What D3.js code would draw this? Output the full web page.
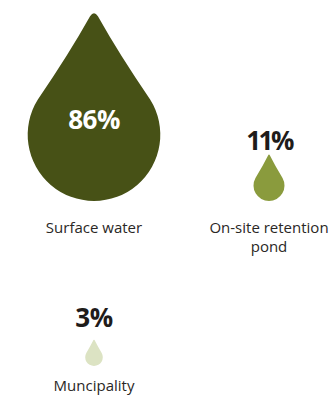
<!DOCTYPE html>
<html>
<head>
  <meta charset="utf-8">
  <script src="https://d3js.org/d3.v7.min.js"></script>
  <style>
    html, body { margin: 0; padding: 0; background: #fff; }
    text { font-family: "Open Sans", "Noto Sans", sans-serif; }
  </style>
</head>
<body>
  <div id="chart"></div>
  <script>
    var labels = ["Surface water", "On-site retention pond", "Muncipality"];
    var values = [86, 11, 3];
    var colors = ["#475116", "#8a9b3d", "#dce3c3"];

    var width = 331, height = 395;

    var svg = d3.select("#chart")
      .append("svg")
      .attr("width", width)
      .attr("height", height);

    // drop radius from the value
    var r = d3.scaleLinear()
      .domain([3, 11, 86])
      .range([8.8, 15.5, 66.3]);

    // two columns, rows aligned on the bottom of the drops
    var colX = d3.scaleOrdinal().domain([0, 1]).range([94, 269]);
    var rowBottom = d3.scaleOrdinal().domain([0, 1]).range([201, 366]);
    var rowValueY = d3.scaleOrdinal().domain([0, 1]).range([149.5, 327]);
    var rowLabelY = d3.scaleOrdinal().domain([0, 1]).range([232.5, 390.5]);

    function dropPath(cx, cy, rad, f) {
      var d = f * rad;
      var th = Math.acos(1 / f);
      var tx = rad * Math.sin(th), ty = -rad * Math.cos(th);
      var ang = Math.atan2(ty, tx);
      var tipY = cy - d;
      // small rounding at the tip
      var k = 0.07;
      var p = d3.path();
      p.moveTo(cx - tx * k, tipY + (ty + d) * k);
      p.quadraticCurveTo(cx, tipY, cx + tx * k, tipY + (ty + d) * k);
      // slightly concave side down to the tangent point
      p.quadraticCurveTo(cx + tx * 0.5 - 0.04 * rad, tipY + (ty + d) * 0.5, cx + tx, cy + ty);
      p.arc(cx, cy, rad, ang, Math.PI - ang, false);
      p.quadraticCurveTo(cx - tx * 0.5 + 0.04 * rad, tipY + (ty + d) * 0.5, cx - tx * k, tipY + (ty + d) * k);
      p.closePath();
      return p.toString();
    }

    values.forEach(function(v, i) {
      var col = i % 2, row = Math.floor(i / 2);
      var rad = r(v);
      var cx = colX(col);
      var cy = rowBottom(row) - rad;
      var inside = rad > 40;
      var g = svg.append("g");

      g.append("path")
        .attr("d", dropPath(cx, cy, rad, inside ? 1.88 : 2.05))
        .attr("fill", colors[i]);

      g.append("text")
        .attr("x", cx)
        .attr("y", inside ? cy - 6 : rowValueY(row))
        .attr("text-anchor", "middle")
        .attr("font-size", 26)
        .attr("font-weight", 700)
        .attr("letter-spacing", v === 11 ? -2.5 : -0.5)
        .attr("fill", inside ? "#ffffff" : "#1f1c1a")
        .text(v + "%");

      // wrap label into lines
      var t = g.append("text")
        .attr("x", cx)
        .attr("y", rowLabelY(row))
        .attr("text-anchor", "middle")
        .attr("font-size", 15)
        .attr("fill", "#2a2725");
      var words = labels[i].split(" ");
      var line = [];
      var ts = t.append("tspan").attr("x", cx).attr("dy", 0);
      words.forEach(function(w) {
        line.push(w);
        ts.text(line.join(" "));
        if (ts.node().getComputedTextLength() > 128 && line.length > 1) {
          line.pop();
          ts.text(line.join(" "));
          line = [w];
          ts = t.append("tspan").attr("x", cx).attr("dy", 19.5).text(w);
        }
      });
    });
  </script>
</body>
</html>
